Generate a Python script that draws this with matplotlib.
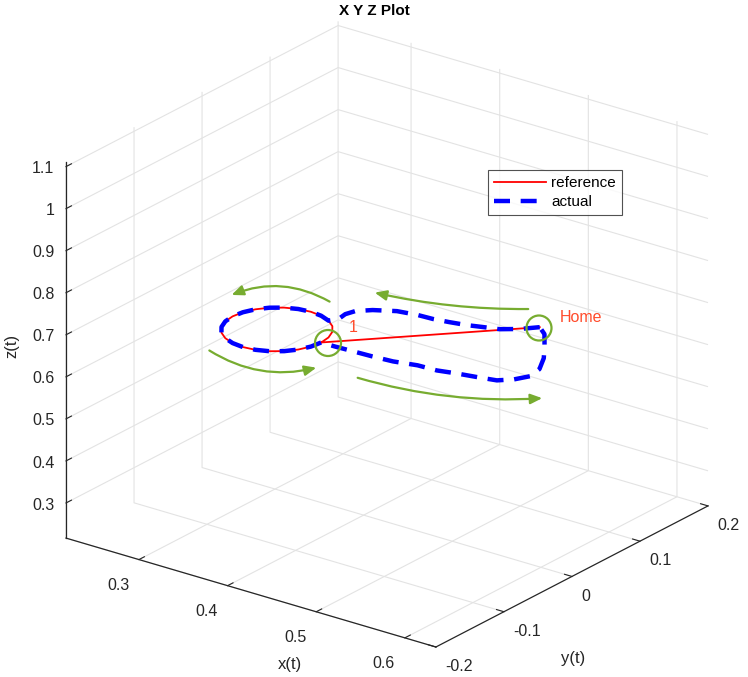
import matplotlib
matplotlib.use('Agg')
import matplotlib.pyplot as plt
from matplotlib.patches import FancyArrowPatch, Ellipse
from mpl_toolkits.mplot3d import proj3d

plt.rcParams['font.family'] = ['Liberation Sans', 'DejaVu Sans']
try:
    plt.rcParams['axes3d.automargin'] = False
except KeyError:
    pass

# ---------------- data ----------------
home = (0.548, 0.066, 0.70)
point1 = (0.412, -0.078, 0.70)

ref_x = [0.548, 0.412, 0.4103, 0.4053, 0.3974, 0.387, 0.3749, 0.362, 0.3491, 0.337,
         0.3266, 0.3187, 0.3137, 0.312, 0.3137, 0.3187, 0.3266, 0.337, 0.3491, 0.362,
         0.3749, 0.387, 0.3974, 0.4053, 0.4103, 0.412]
ref_y = [0.066, -0.078, -0.0651, -0.053, -0.0426, -0.0347, -0.0297, -0.028, -0.0297, -0.0347,
         -0.0426, -0.053, -0.0651, -0.078, -0.0909, -0.103, -0.1134, -0.1213, -0.1263, -0.128,
         -0.1263, -0.1213, -0.1134, -0.103, -0.0909, -0.078]
ref_z = [0.70] * len(ref_x)

act_x = [0.548, 0.542, 0.536, 0.522, 0.507, 0.493, 0.476, 0.460, 0.443, 0.423, 0.404, 0.393, 0.390, 0.392,
         0.387, 0.3749, 0.362, 0.3491, 0.337, 0.3266, 0.3187, 0.3137, 0.312, 0.3137, 0.3187, 0.3266,
         0.337, 0.3491, 0.362, 0.3749, 0.387, 0.3974, 0.4053, 0.4103, 0.412,
         0.427, 0.447, 0.468, 0.490, 0.513, 0.534, 0.552, 0.575, 0.591, 0.602, 0.609, 0.606, 0.594,
         0.578, 0.561, 0.548]
act_y = [0.066, 0.059, 0.052, 0.041, 0.036, 0.031, 0.027, 0.024, 0.023, 0.019, 0.008, -0.003, -0.014, -0.027,
         -0.0347, -0.0297, -0.028, -0.0297, -0.0347, -0.0426, -0.053, -0.0651, -0.078, -0.0909, -0.103, -0.1134,
         -0.1213, -0.1263, -0.128, -0.1263, -0.1213, -0.1134, -0.103, -0.0909, -0.078,
         -0.078, -0.077, -0.076, -0.074, -0.068, -0.067, -0.062, -0.057, -0.053, -0.042, -0.028, -0.010, 0.012,
         0.034, 0.056, 0.066]
act_z = [0.70] * len(act_x)

x_ticks = [0.3, 0.4, 0.5, 0.6]
y_ticks = [-0.2, -0.1, 0.0, 0.1, 0.2]
z_ticks = [0.3, 0.4, 0.5, 0.6, 0.7, 0.8, 0.9, 1.0, 1.1]
x_ticklabels = ['0.3', '0.4', '0.5', '0.6']
y_ticklabels = ['-0.2', '-0.1', '0', '0.1', '0.2']
z_ticklabels = ['0.3', '0.4', '0.5', '0.6', '0.7', '0.8', '0.9', '1', '1.1']
x_lim = (0.2177, 0.635)
y_lim = (-0.2, 0.2)
z_lim = (0.2165, 1.11)

# ---------------- figure ----------------
W, H = 748, 677
fig = plt.figure(figsize=(W / 100, H / 100), dpi=100)
ax = fig.add_axes([0.0, 0.0, 1.0, 1.0], projection='3d', computed_zorder=False)
ax.set_proj_type('ortho')
ax.view_init(elev=23, azim=-53)
ax.set_box_aspect((463, 452, 408))
ax.set_xlim(*x_lim)
ax.set_ylim(*y_lim)
ax.set_zlim(*z_lim)

ln_ref, = ax.plot(ref_x, ref_y, ref_z, color=(1, 0, 0), lw=1.3, label='reference')
ln_act, = ax.plot(act_x, act_y, act_z, color=(0, 0, 1), lw=3.2,
                  linestyle=(0, (3.6, 2.4)), label='actual')

ax.set_xticks(x_ticks)
ax.set_yticks(y_ticks)
ax.set_zticks(z_ticks)
ax.set_xticklabels(x_ticklabels)
ax.set_yticklabels(y_ticklabels)
ax.set_zticklabels(z_ticklabels)

ax.zaxis.set_ticks_position('lower')
ax.zaxis.set_label_position('lower')

axc = '#262626'
for a in (ax.xaxis, ax.yaxis, ax.zaxis):
    a.set_pane_color((1, 1, 1, 0))
    a.pane.set_edgecolor('#e0e0e0')
    a.pane.set_linewidth(0.8)
    a._axinfo['grid'].update(color='#e3e3e3', linewidth=0.8)
    a._axinfo['tick'].update(inward_factor=0.0, outward_factor=0.25)
    a.line.set_color(axc)
    a.line.set_linewidth(0.9)
ax.tick_params(axis='x', colors=axc, labelsize=11.5, pad=2)
ax.tick_params(axis='y', colors=axc, labelsize=11.5, pad=-1)
ax.tick_params(axis='z', colors=axc, labelsize=11.5, pad=-3)
ax.set_xlabel('')
ax.set_ylabel('')
ax.set_zlabel('')

# ---- fit the projected box onto the target pixel frame ----
fig.canvas.draw()


def to_px(x, y, z):
    xs, ys, _ = proj3d.proj_transform(x, y, z, ax.get_proj())
    return ax.transData.transform((xs, ys))


pL = to_px(x_lim[0], y_lim[0], z_lim[0])
pR = to_px(x_lim[1], y_lim[1], z_lim[0])
tL = (66, H - 539)
tR = (708, H - 505)
bb = ax.get_position()
cx, cy = (bb.x0 + bb.width / 2) * W, (bb.y0 + bb.height / 2) * H
side = bb.width * W
k = (tR[0] - tL[0]) / (pR[0] - pL[0])
ncx = (tL[0] + tR[0]) / 2 - k * ((pL[0] + pR[0]) / 2 - cx)
ncy = (tL[1] + tR[1]) / 2 - k * ((pL[1] + pR[1]) / 2 - cy)
ns = k * side
ax.set_position([(ncx - ns / 2) / W, (ncy - ns / 2) / H, ns / W, ns / H])

plt.setp(ax.get_xticklabels(), ha='right')
plt.setp(ax.get_yticklabels(), ha='left')
plt.setp(ax.get_zticklabels(), ha='right', va='center_baseline')

# ---------------- axis labels ----------------
fig.text(290 / W, 1 - 665 / H, 'x(t)', color=axc, fontsize=12, ha='center', va='center')
fig.text(573 / W, 1 - 659 / H, 'y(t)', color=axc, fontsize=12, ha='center', va='center')
fig.text(12 / W, 1 - 346 / H, 'z(t)', color=axc, fontsize=12, ha='center', va='center',
         rotation=90)

# ---------------- annotations ----------------
txtc = '#ff4b2b'
fig.text(560 / W, 1 - 317 / H, 'Home', color=txtc, fontsize=11.5, va='center', ha='left')
fig.text(349 / W, 1 - 328 / H, '1', color=txtc, fontsize=11.5, va='center', ha='left')

green = '#77ac30'
circles = [(328, 343, 26, 26), (539, 328, 25, 25)]
for (u, v, w, h) in circles:
    fig.patches.append(Ellipse((u / W, 1 - v / H), w / W, h / H, transform=fig.transFigure,
                               fill=False, edgecolor=green, lw=1.6))

arrows = [((332, 303), (229, 296), 0.25),
          ((207, 349), (319, 367), 0.22),
          ((531, 309), (372, 292), -0.06),
          ((355, 377), (545, 398), 0.09)]
for (s, e, rad) in arrows:
    fig.patches.append(FancyArrowPatch((s[0] / W, 1 - s[1] / H), (e[0] / W, 1 - e[1] / H),
                                       transform=fig.transFigure,
                                       connectionstyle=f'arc3,rad={rad}',
                                       arrowstyle='-|>,head_length=7,head_width=3',
                                       color=green, lw=1.6, mutation_scale=1))

leg = fig.legend(handles=[ln_ref, ln_act], loc='upper left',
                 bbox_to_anchor=(488 / W, 1 - 170 / H), bbox_transform=fig.transFigure,
                 fontsize=11, frameon=True, fancybox=False, handlelength=3.4,
                 borderpad=0.4, labelspacing=0.32, handletextpad=0.35, borderaxespad=0)
leg.get_frame().set_edgecolor('#262626')
leg.get_frame().set_linewidth(0.8)

fig.text(0.5, 1 - 11 / H, 'X Y Z Plot', ha='center', va='center', fontsize=11,
         fontweight='bold', color='#000000')

fig.savefig('out.png', dpi=100)
